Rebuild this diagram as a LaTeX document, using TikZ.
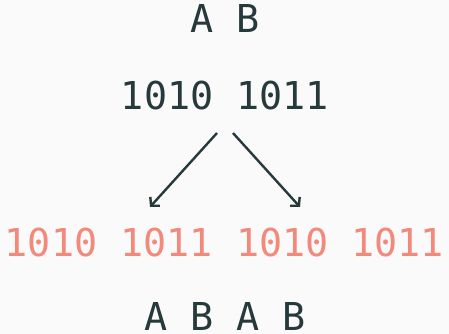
\documentclass[tikz,border=0pt]{standalone}
\usepackage{fontspec}
\setmonofont{DejaVu Sans Mono}
\usetikzlibrary{arrows.meta}
\definecolor{ink}{HTML}{263A3C}
\definecolor{salmon}{HTML}{F2897B}
\definecolor{paper}{HTML}{FAFAFA}
\tikzset{
  x=1pt, y=-1pt,
  word/.style={font=\ttfamily\fontsize{38.4}{40}\selectfont, inner sep=0pt, anchor=base},
  dark/.style={word, text=ink},
  split/.style={word, text=salmon},
  arrowline/.style={draw=ink, line width=2.4pt, -{Straight Barb[length=6pt,width=13pt,line width=2.4pt]}}
}
\begin{document}
\begin{tikzpicture}
\fill[paper] (0,0) rectangle (449,334);
\useasboundingbox (0,0) rectangle (449,334);
% top labels and the two words
\node[dark] (ab) at (225,33) {A B};
\node[dark] (pair) at (225,110) {1010 1011};
% split into two copies
\node[split] (copy) at (224.5,256) {1010 1011 1010 1011};
\node[dark] (abab) at (225,330) {A B A B};
% arrow ends
\coordinate (ls) at (217,133);
\coordinate (le) at (150,207);
\coordinate (rs) at (233,133);
\coordinate (re) at (300,207);
\draw[arrowline] (ls) -- (le);
\draw[arrowline] (rs) -- (re);
\end{tikzpicture}
\end{document}
